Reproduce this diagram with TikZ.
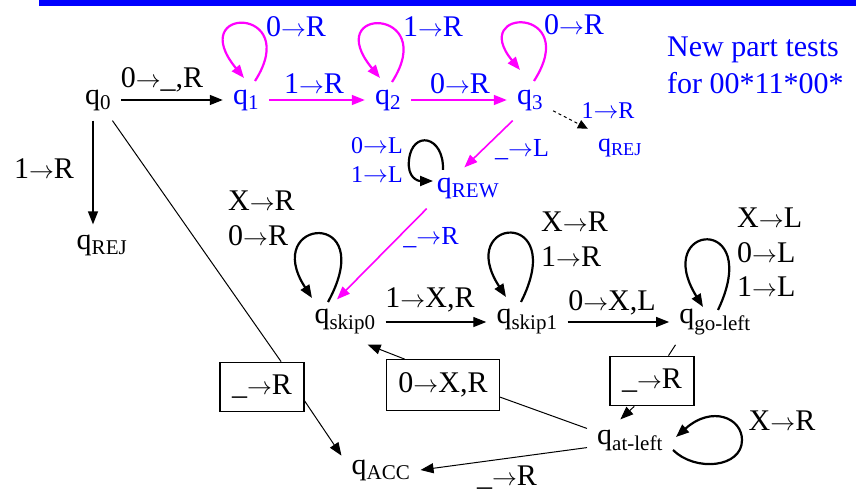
\documentclass[tikz,border=0pt]{standalone}
\usepackage{fontspec}
\setmainfont{Liberation Serif}
\usetikzlibrary{arrows.meta, positioning, calc}

\definecolor{newpink}{RGB}{255,0,255}
\definecolor{newblue}{RGB}{0,0,255}
\newcommand{\tto}{\ensuremath{\rightarrow}}

\begin{document}
\begin{tikzpicture}[
        x = 1pt, y = -1pt,
        on grid,
        >= {Triangle[length = 13pt, width = 10pt]},
        every node/.style = {inner sep = 0pt, font = \fontsize{30}{36.5}\selectfont},
        state/.style = {inner sep = 10pt},
        new/.style = {text = newblue},
        mid/.style = {font = \fontsize{26}{28}\selectfont},
        small/.style = {font = \fontsize{24}{26}\selectfont},
        rulebox/.style = {draw, line width = 1.2pt, inner xsep = 12pt, inner ysep = 13pt},
        oldedge/.style = {->, line width = 1.3pt},
        newedge/.style = {->, draw = newpink, line width = 1.6pt},
        oldloop/.style = {->, line width = 2.2pt},
        newloop/.style = {->, draw = newpink, line width = 2.2pt}
    ]

    \useasboundingbox (0,0) rectangle (856,497);
    \fill[newblue] (39,0) rectangle (856,6);

    % states
    \node[state] (q0) at (98,100) {q\textsubscript{0}};
    \node[state, new] (q1) at (246,100) {q\textsubscript{1}};
    \node[state, new] (q2) [right = 142pt of q1] {q\textsubscript{2}};
    \node[state, new] (q3) [right = 142pt of q2] {q\textsubscript{3}};
    \node[state, new, mid] (rejtop) at (620,148) {q\textsubscript{REJ}};
    \node[state, new] (rew) at (468,188) {q\textsubscript{REW}};
    \node[state] (rej) at (102,245) {q\textsubscript{REJ}};
    \node[state] (skipzero) at (345,322) {q\textsubscript{skip0}};
    \node[state] (skipone) [right = 182pt of skipzero] {q\textsubscript{skip1}};
    \node[state] (goleft) [right = 188pt of skipone] {q\textsubscript{go-left}};
    \node[state] (atleft) at (630,440) {q\textsubscript{at-left}};
    \node[state] (acc) at (381,470) {q\textsubscript{ACC}};

    % boxed rules
    \node[rulebox] (accrule) at (262,387) {\_\tto R};
    \node[rulebox] (xrule) at (443,385) {0\tto X,R};
    \node[rulebox] (leftrule) at (652,381) {\_\tto R};

    % labels
    \node (l01) at (162,80) {0\tto\_,R};
    \node (lrej) at (44,169) {1\tto R};
    \node[new] (l12) at (314,84) {1\tto R};
    \node[new] (l23) at (460,84) {0\tto R};
    \node[new] (l11) at (296,27) {0\tto R};
    \node[new] (l22) at (433,27) {1\tto R};
    \node[new] (l33) at (574,25) {0\tto R};
    \node[new, small] (l3rej) at (608,111) {1\tto R};
    \node[new, mid] (l3rew) at (522,150) {\_\tto L};
    \node[new, small] (lrewa) at (377,146) {0\tto L};
    \node[new, small] (lrewb) at (377,175) {1\tto L};
    \node[new, mid] (lrews) at (431,238) {\_\tto R};
    \node[anchor = west] (lsza) at (228,201) {X\tto R};
    \node[anchor = west] (lszb) at (228,236) {0\tto R};
    \node[anchor = west] (lsoa) at (541,222) {X\tto R};
    \node[anchor = west] (lsob) at (541,257) {1\tto R};
    \node[anchor = west] (lgla) at (737,218) {X\tto L};
    \node[anchor = west] (lglb) at (737,253) {0\tto L};
    \node[anchor = west] (lglc) at (737,287) {1\tto L};
    \node (lszso) at (430,300) {1\tto X,R};
    \node (lsogl) at (612,303) {0\tto X,L};
    \node (lalal) at (782,421) {X\tto R};
    \node (lalacc) at (507,478) {\_\tto R};
    \node[new, anchor = north west, align = left] (note) at (667,37)
        {New part tests\\for 00*11*00*};

    % old machine
    \draw[oldedge] (q0) -- (q1);
    \draw[oldedge] ([xshift = -5pt]q0.south) -- ([xshift = -5pt]q0.south |- rej.north);
    \draw[line width = 1pt] (q0.-55) -- (accrule.53);
    \draw[oldedge, line width = 1pt] (accrule.-18) -- (acc.160);
    \draw[oldedge] (skipzero) -- (skipone);
    \draw[oldedge] (skipone) -- (goleft);
    \draw[oldedge, line width = 1pt] (xrule.146) -- (skipzero.-45);
    \draw[line width = 1pt] (xrule.-12) -- (atleft.165);
    \draw[line width = 1pt] (goleft.210) -- (leftrule.57);
    \draw[oldedge, line width = 1pt] (leftrule.235) -- (atleft.115);
    \draw[oldedge, line width = 1pt] (atleft.190) -- (acc.east);

    % new part
    \draw[newedge] (q1) -- (q2);
    \draw[newedge] (q2) -- (q3);
    \draw[->, dashed, line width = 1pt, >= {Triangle[length = 10pt, width = 9pt]}] (q3.-25) -- (rejtop.north west);
    \draw[newedge] (q3.230) -- (rew.100);
    \draw[newedge] (rew.south west) -- ([xshift = -8pt]skipzero.north);

    % loops
    \draw[newloop] ($(q1)+(9,-19)$) .. controls +(48,-75) and +(-60,-73) .. ($(q1)+(-2,-22)$);
    \draw[newloop] ($(q2)+(4,-18)$) .. controls +(48,-75) and +(-60,-73) .. ($(q2)+(-8,-22)$);
    \draw[newloop] ($(q3)+(4,-19)$) .. controls +(48,-75) and +(-52,-63) .. ($(q3)+(-10,-30)$);
    \draw[oldloop] ($(rew)+(-25,-18)$) .. controls +(1,-35) and +(3,-30) .. ($(rew)+(-59,-28)$)
        .. controls +(-2,18) and +(-15,0) .. ($(rew)+(-35,-7)$);
    \draw[oldloop] ($(skipzero)+(-17,-20)$) .. controls +(52,-95) and +(-52,-80) .. ($(skipzero)+(-33,-24)$);
    \draw[oldloop] ($(skipone)+(-6,-20)$) .. controls +(48,-95) and +(-52,-80) .. ($(skipone)+(-21,-25)$);
    \draw[oldloop] ($(goleft)+(3,-12)$) .. controls +(46,-97) and +(-52,-84) .. ($(goleft)+(-12,-15)$);
    \draw[oldloop] ($(atleft)+(43,10)$) .. controls +(22,22) and +(0,28) .. ($(atleft)+(112,0)$)
        .. controls +(0,-22) and +(36,-32) .. ($(atleft)+(46,-3)$);

\end{tikzpicture}
\end{document}
